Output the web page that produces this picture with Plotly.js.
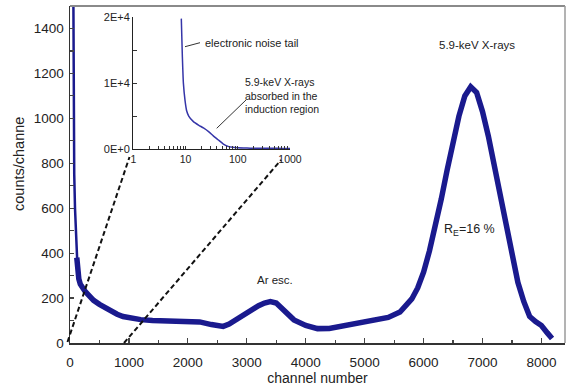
<!DOCTYPE html>
<html>
<head>
<meta charset="utf-8">
<script src="https://cdn.plot.ly/plotly-3.0.1.min.js"></script>
<style>html,body{margin:0;padding:0;background:#fff;}#chart{width:572px;height:390px;}</style>
</head>
<body>
<div id="chart"></div>
<script>
// ---- main spectrum (channel number vs counts/channel) ----
const channels = [0, 20, 40, 57, 65, 72, 85, 100, 115, 130, 150, 175, 200, 250, 300, 400, 500, 600, 700, 800, 900, 1000, 1200, 1400, 1600, 1800, 2000, 2200, 2400, 2500, 2600, 2700, 2800, 3000, 3200, 3300, 3400, 3500, 3600, 3700, 3800, 4000, 4200, 4400, 4600, 4800, 5000, 5200, 5400, 5600, 5800, 5900, 6000, 6100, 6200, 6300, 6400, 6500, 6600, 6700, 6800, 6900, 7000, 7100, 7200, 7300, 7400, 7500, 7600, 7700, 7800, 7900, 8000, 8100, 8180];
const counts = [20000, 5000, 2500, 1550, 1000, 750, 600, 480, 380, 320, 285, 262, 250, 232, 218, 190, 172, 155, 140, 128, 118, 112, 104, 100, 99, 101, 100, 94, 82, 76, 74, 84, 100, 138, 166, 178, 184, 178, 152, 125, 103, 78, 64, 65, 74, 83, 92, 100, 114, 138, 196, 245, 315, 410, 520, 640, 770, 900, 1010, 1100, 1140, 1115, 1030, 920, 790, 655, 520, 380, 270, 185, 118, 95, 78, 45, 20];

// ---- inset: channels 1..1000 on log scale ----
const insetChannels = [8.3, 8.7, 9.1, 9.8, 10.5, 11.5, 14, 18, 22, 28, 34, 42, 53, 65, 80, 100, 150, 200, 300, 500, 700, 1000];
const insetCounts = [19800, 14000, 10000, 7300, 5800, 5000, 4200, 3600, 3200, 2600, 2000, 1400, 750, 400, 250, 180, 140, 120, 110, 100, 90, 80];

// tick labels
const mainXTicks = [0, 1000, 2000, 3000, 4000, 5000, 6000, 7000, 8000];
const insetXTickVals = [1,2,3,4,5,6,7,8,9,10,20,30,40,50,60,70,80,90,100,200,300,400,500,600,700,800,900,1000];
const insetXTickText = insetXTickVals.map(v => ([1,10,100,1000].includes(v) ? String(v) : ''));
const insetYTickVals = [0, 5000, 10000, 15000, 20000];
const insetYTickText = ['0E+0', '', '1E+4', '', '2E+4'];

// ---- layout helpers (pixel -> paper) ----
const L = 70, R = 565, T = 6, B = 343;
const px = x => (x - L) / (R - L);
const py = y => (B - y) / (B - T);

const FONT = 'Liberation Sans, Arial, Helvetica, sans-serif';
const BLUE = '#1a1a8e';

// split the main series: thin steep spike, thick noisy band (overlapping a little)
const thinEnd = channels.indexOf(150);
const thickStart = channels.indexOf(115);

const traces = [
  { x: channels.slice(thickStart), y: counts.slice(thickStart), type: 'scatter', mode: 'lines',
    line: { color: BLUE, width: 5.5 }, hoverinfo: 'skip', showlegend: false },
  { x: channels.slice(0, thinEnd + 1), y: counts.slice(0, thinEnd + 1), type: 'scatter', mode: 'lines',
    line: { color: BLUE, width: 2.5 }, hoverinfo: 'skip', showlegend: false },
  { x: insetChannels, y: insetCounts, xaxis: 'x2', yaxis: 'y2', type: 'scatter', mode: 'lines',
    line: { color: '#3535a8', width: 1.5, shape: 'spline', smoothing: 0.5 }, hoverinfo: 'skip', showlegend: false }
];

const layout = {
  width: 572, height: 390,
  margin: { l: L, r: 572 - R, t: T, b: 390 - B },
  paper_bgcolor: '#fff', plot_bgcolor: 'rgba(0,0,0,0)',
  font: { family: FONT, color: '#222' },
  showlegend: false,
  xaxis: {
    range: [0, 8400], tickvals: mainXTicks, ticks: 'inside', ticklen: 5, tickwidth: 1.2, tickcolor: '#444',
    minor: { dtick: 500, tick0: 0, ticks: 'inside', ticklen: 3, tickwidth: 1.2, tickcolor: '#444' },
    showgrid: false, zeroline: false, showline: true, linecolor: '#333', linewidth: 1.5,
    ticklabelstandoff: 6, tickangle: 0,
    tickfont: { size: 13.5, family: FONT, color: '#222' },
    title: { text: 'channel number', font: { size: 14, family: FONT, color: '#222' }, standoff: 4 }
  },
  yaxis: {
    range: [0, 1500], dtick: 200, tick0: 0, ticks: 'inside', ticklen: 4, tickwidth: 1.2, tickcolor: '#444',
    minor: { dtick: 100, tick0: 0, ticks: 'inside', ticklen: 4, tickwidth: 1.2, tickcolor: '#444' },
    showgrid: false, zeroline: false, showline: true, linecolor: '#333', linewidth: 1.5,
    ticklabelstandoff: 2,
    tickfont: { size: 13.5, family: FONT, color: '#222' }
  },
  xaxis2: {
    type: 'log', range: [0, 3], domain: [px(133.3), px(290)], anchor: 'y2',
    tickvals: insetXTickVals, ticktext: insetXTickText, ticks: 'inside', ticklen: 3, tickwidth: 1, tickcolor: '#333',
    tickangle: 0,
    showgrid: false, zeroline: false, showline: true, linecolor: '#222', linewidth: 1.3,
    tickfont: { size: 10.5, family: FONT, color: '#222' }
  },
  yaxis2: {
    range: [0, 20000], domain: [py(149), py(17.3)], anchor: 'x2',
    tickvals: insetYTickVals, ticktext: insetYTickText, ticks: 'inside', ticklen: 4, tickwidth: 1, tickcolor: '#333',
    showgrid: false, zeroline: false, showline: true, linecolor: '#222', linewidth: 1.3,
    tickfont: { size: 11, family: FONT, color: '#222' }
  },
  shapes: [
    // top & right frame
    { type: 'line', xref: 'paper', yref: 'paper', x0: 0, x1: 1, y0: 1, y1: 1, line: { color: '#8a8a8a', width: 2 } },
    { type: 'line', xref: 'paper', yref: 'paper', x0: 1, x1: 1, y0: 0, y1: 1, line: { color: '#9a9a9a', width: 1.5 } },
    // zoom guide lines to the inset
    { type: 'line', xref: 'paper', yref: 'paper', x0: px(67.5), y0: py(342), x1: px(129.5), y1: py(157),
      line: { color: '#111', width: 2, dash: '5px,3px' } },
    { type: 'line', xref: 'paper', yref: 'paper', x0: px(124), y0: py(343), x1: px(281), y1: py(160),
      line: { color: '#111', width: 2, dash: '5px,3px' } },
    // inset leader lines
    { type: 'line', xref: 'paper', yref: 'paper', x0: px(185), y0: py(46.7), x1: px(200), y1: py(42.7),
      line: { color: '#333', width: 1 } },
    { type: 'line', xref: 'paper', yref: 'paper', x0: px(216.7), y0: py(128.3), x1: px(246), y1: py(100),
      line: { color: '#333', width: 1 } }
  ],
  annotations: [
    { xref: 'paper', yref: 'paper', x: px(19), y: py(164), text: 'counts/channe', textangle: -90, showarrow: false,
      xanchor: 'center', yanchor: 'middle', font: { size: 14.5, family: FONT, color: '#222' } },
    { xref: 'paper', yref: 'paper', x: px(477), y: py(45), text: '5.9-keV X-rays', showarrow: false,
      xanchor: 'center', yanchor: 'middle', font: { size: 11.5, family: FONT, color: '#222' } },
    { xref: 'paper', yref: 'paper', x: px(442), y: py(230), text: 'R<sub>E</sub>=16 %', showarrow: false,
      xanchor: 'left', yanchor: 'middle', font: { size: 12.5, family: FONT, color: '#222' } },
    { xref: 'paper', yref: 'paper', x: px(275), y: py(280), text: 'Ar esc.', showarrow: false,
      xanchor: 'center', yanchor: 'middle', font: { size: 11.5, family: FONT, color: '#222' } },
    { xref: 'paper', yref: 'paper', x: px(203), y: py(43), text: 'electronic noise tail', showarrow: false,
      xanchor: 'left', yanchor: 'middle', font: { size: 11, family: FONT, color: '#222' } },
    { xref: 'paper', yref: 'paper', x: px(243), y: py(95), text: '5.9-keV X-rays<br>absorbed in the<br>induction region',
      showarrow: false, align: 'left', xanchor: 'left', yanchor: 'middle', font: { size: 10.5, family: FONT, color: '#222' } }
  ]
};

Plotly.newPlot('chart', traces, layout, { staticPlot: true, displayModeBar: false });
</script>
</body>
</html>
